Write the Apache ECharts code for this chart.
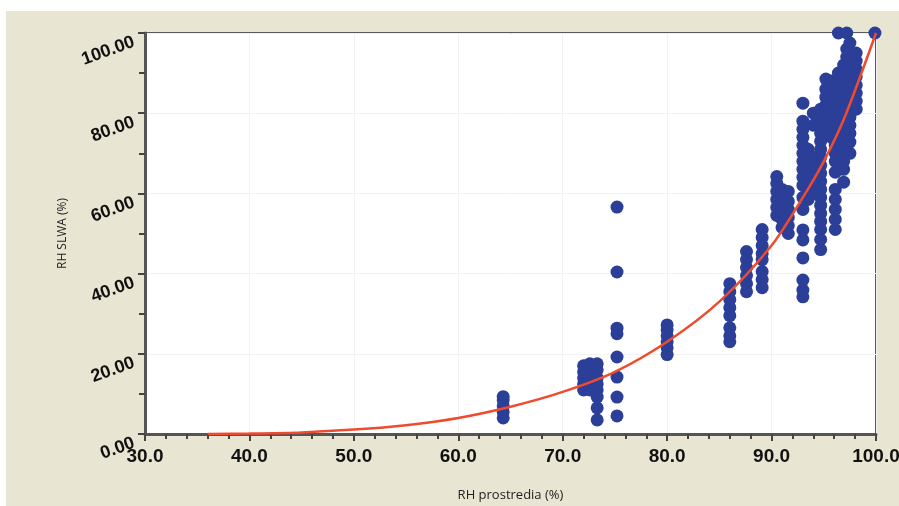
<!DOCTYPE html>
<html>
<head>
<meta charset="utf-8">
<script src="https://cdn.jsdelivr.net/npm/echarts@6/dist/echarts.min.js"></script>
<style>
  html, body { margin: 0; padding: 0; background: #ffffff; }
  #chart { position: absolute; left: 6px; top: 11px; width: 893px; height: 495px; }
</style>
</head>
<body>
<div id="chart"></div>
<script>
// X-axis tick labels and Y-axis tick labels
const xTicks = [30, 40, 50, 60, 70, 80, 90, 100];
const yTicks = [0, 20, 40, 60, 80, 100];

// Measured points, grouped by column (x value, list of y values)
const col643 = [64.3, [4.0, 5.5, 7.0, 8.5, 9.3]];
const col720 = [72.0, [11, 12.5, 14, 15.5, 17]];
const col726 = [72.6, [11, 12.5, 14, 15.5, 17.5]];
const col733 = [73.3, [3.5, 6.5, 9.2, 11, 12.5, 14, 16, 17.5]];
const col752 = [75.2, [4.5, 9.2, 14.2, 19.2, 25, 26.4, 40.4, 56.6]];
const col800 = [80.0, [19.8, 21.5, 23, 24.5, 26, 27.2]];
const col860 = [86.0, [23, 24.5, 26.5, 29.5, 31.5, 33.5, 35.5, 37.5]];
const col876 = [87.6, [35.5, 37.5, 39.5, 41.5, 43.5, 45.5]];
const col891 = [89.1, [36.5, 38.5, 40.5, 43.5, 45, 47, 49, 51]];
const col905 = [90.5, [54.5, 56.5, 58.5, 60.5, 62.5, 64.2]];
const col910 = [91.0, [51.5, 53.5, 55.5, 57.5, 59.5, 61]];
const col916 = [91.6, [50, 52, 54, 56, 58, 60.5]];
const col930 = [93.0, [34.2, 35.9, 38.4, 43.9, 48.4, 50.9, 56, 59, 62, 64, 66, 68, 70, 72, 74, 76, 78, 82.5]];
const col935 = [93.5, [58.5, 61, 63.5, 66, 68.5, 71]];
const col940 = [94.0, [60, 62, 64, 66.5, 69, 77, 80]];
const col947 = [94.7, [46, 48.5, 51, 53, 55, 57, 59, 61, 63, 65, 67, 69, 71, 73, 75, 77, 79, 81]];
const col952 = [95.2, [76, 78, 80, 82, 84, 86, 88.5]];
const col957 = [95.7, [74, 76, 78, 80, 82, 84, 86, 88]];
const col961 = [96.1, [51, 53.5, 56, 58.5, 61, 65.3, 68, 70, 72, 74, 76, 78, 80, 82, 84]];
const col964 = [96.4, [100, 86, 88, 90]];
const col969 = [96.9, [62.8, 66, 68, 70, 72, 74, 76, 78, 80, 82, 84, 86, 88, 90, 92]];
const col972 = [97.2, [100, 94, 96]];
const col975 = [97.5, [70, 72.8, 75, 77, 79, 81, 83, 85, 87, 89, 91, 93, 95, 97.5]];
const col981 = [98.1, [81, 83, 85, 87, 89, 91, 93, 95]];
const col999 = [99.9, [100]];

const columns = [col643, col720, col726, col733, col752, col800, col860, col876, col891,
  col905, col910, col916, col930, col935, col940, col947, col952, col957, col961,
  col964, col969, col972, col975, col981, col999];

// Trend curve
const curveX = [36, 40, 45, 50, 55, 60, 65, 70, 75, 80, 85, 90, 93, 95, 97, 100];
const curveY = [0, 0.1, 0.4, 1.1, 2.2, 4.0, 6.8, 10.5, 15.5, 23, 33, 47, 59, 68, 79, 100];

const scatterData = [];
columns.forEach(c => c[1].forEach(y => scatterData.push([c[0], y])));
const curveData = curveX.map((x, i) => [x, curveY[i]]);

const chart = echarts.init(document.getElementById('chart'));
chart.setOption({
  backgroundColor: '#e9e5d3',
  animation: false,
  grid: {
    left: 139, right: 23, top: 22, bottom: 72,
    outerBoundsMode: 'none', containLabel: false,
    show: true, backgroundColor: '#ffffff', borderColor: '#5a5a5a', borderWidth: 2
  },
  xAxis: {
    type: 'value', min: 30, max: 100, interval: 10,
    name: 'RH prostredia (%)', nameLocation: 'middle', nameGap: 55,
    nameTextStyle: { fontFamily: 'Open Sans', fontSize: 13, color: '#222' },
    axisLine: { show: true, lineStyle: { color: '#555', width: 3 } },
    axisTick: { show: true, length: 7, lineStyle: { color: '#444', width: 2 } },
    minorTick: { show: true, splitNumber: 5, length: 5, lineStyle: { color: '#444', width: 2 } },
    axisLabel: {
      fontFamily: 'Liberation Sans', fontWeight: 'bold', fontSize: 19, color: '#111', margin: 13,
      formatter: v => xTicks.includes(v) ? v.toFixed(1) : ''
    },
    splitLine: { show: true, lineStyle: { color: '#f2f2f2', width: 1 } }
  },
  yAxis: {
    type: 'value', min: 0, max: 100, interval: 20,
    name: 'RH SLWA (%)', nameLocation: 'middle', nameGap: 76,
    nameTextStyle: { fontFamily: 'Open Sans', fontSize: 12, color: '#222' },
    axisLine: { show: true, lineStyle: { color: '#555', width: 3 } },
    axisTick: { show: true, length: 7, lineStyle: { color: '#444', width: 2 } },
    minorTick: { show: true, splitNumber: 2, length: 6, lineStyle: { color: '#444', width: 2 } },
    axisLabel: {
      fontFamily: 'Liberation Sans', fontWeight: 'bold', fontSize: 18, color: '#111', margin: 14,
      rotate: 20, verticalAlign: 'top',
      formatter: v => yTicks.includes(v) ? v.toFixed(2) : ''
    },
    splitLine: { show: true, lineStyle: { color: '#f2f2f2', width: 1 } }
  },
  series: [
    {
      type: 'scatter', data: scatterData, symbol: 'circle', symbolSize: 13,
      itemStyle: { color: '#2b3f99', opacity: 1 }, clip: false, z: 2
    },
    {
      type: 'line', data: curveData, smooth: 0.3, showSymbol: false,
      lineStyle: { color: '#ef4b2e', width: 2.5 }, z: 3
    }
  ]
});
</script>
</body>
</html>
